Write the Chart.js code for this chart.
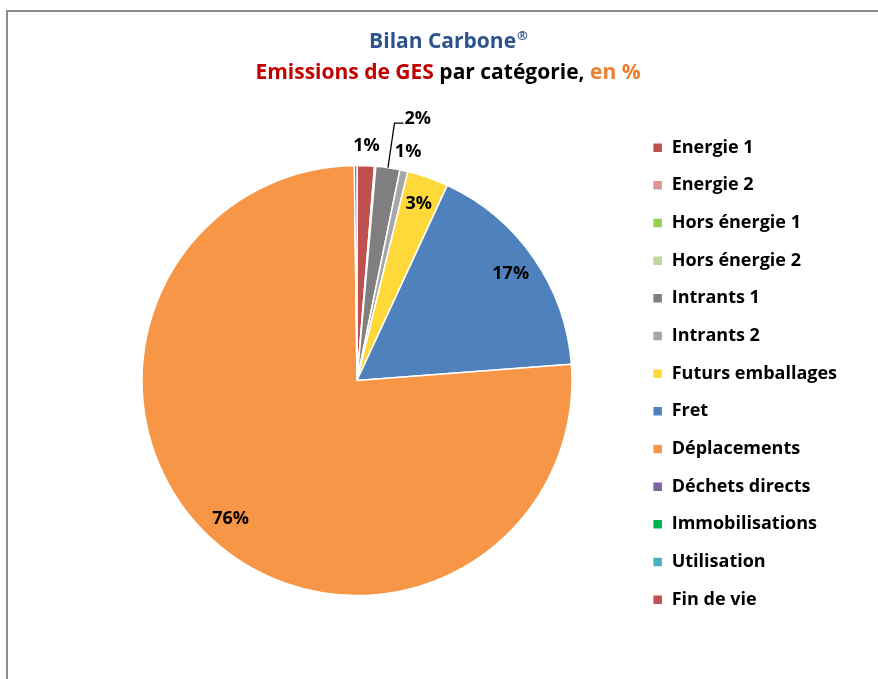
<!DOCTYPE html>
<html lang="fr">
<head>
    <meta charset="UTF-8">
    <title>Bilan Carbone</title>
    <style>
        body, html {
            margin: 0;
            padding: 0;
            width: 100%;
            height: 100%;
            overflow: hidden;
            background: #fff;
        }

        #frame {
            position: absolute;
            left: 6px;
            top: 10px;
            width: 900px;
            height: 700px;
            border-left: 2px solid #8c8c8c;
            border-top: 2px solid #8c8c8c;
        }

        #chartBox {
            position: absolute;
            left: 0;
            top: 0;
            width: 878px;
            height: 679px;
        }
    </style>
</head>
<body>

<div id="frame"></div>
<div id="chartBox">
    <canvas id="pieChart"></canvas>
</div>

<script src="https://cdn.jsdelivr.net/npm/chart.js"></script>
<script>
    const categories = ['Energie 1', 'Energie 2', 'Hors énergie 1', 'Hors énergie 2', 'Intrants 1', 'Intrants 2',
        'Futurs emballages', 'Fret', 'Déplacements', 'Déchets directs', 'Immobilisations', 'Utilisation', 'Fin de vie'];
    const shares = [1.3, 0.1, 0, 0, 1.8, 0.6, 3.1, 16.9, 76.0, 0.2, 0, 0, 0];
    const colors = ['#C0504D', '#DA9694', '#92D050', '#C3D69B', '#7F7F7F', '#A6A6A6',
        '#FFD93A', '#4F81BD', '#F79646', '#8064A2', '#00B050', '#4BACC6', '#C0504D'];
    // where each percentage label goes: inside, outside, or outside with a leader line
    const labelPlacement = ['out', 'none', 'none', 'none', 'leader', 'out', 'in', 'in', 'in', 'none', 'none', 'none', 'none'];

    const FONT = '"Open Sans", Lato, sans-serif';

    // two-line title with mixed colours
    const titlePlugin = {
        id: 'mixedTitle',
        afterDraw(chart) {
            const ctx = chart.ctx;
            const cx = 448;
            ctx.save();
            ctx.textBaseline = 'middle';
            ctx.textAlign = 'left';

            // first line, with a small raised ®
            ctx.font = 'bold 21px ' + FONT;
            const w1 = ctx.measureText('Bilan Carbone').width;
            ctx.font = 'bold 13px ' + FONT;
            const w2 = ctx.measureText('®').width;
            let x = cx - (w1 + w2) / 2;
            ctx.fillStyle = '#2C538C';
            ctx.font = 'bold 21px ' + FONT;
            ctx.fillText('Bilan Carbone', x, 42);
            ctx.font = 'bold 13px ' + FONT;
            ctx.fillText('®', x + w1 + 1, 36);

            ctx.font = 'bold 21px ' + FONT;
            const parts = [
                ['Emissions de GES', '#C00000'],
                [' par catégorie,', '#000000'],
                [' en %', '#ED7D31']
            ];
            let total = 0;
            parts.forEach(p => total += ctx.measureText(p[0]).width);
            x = cx - total / 2;
            parts.forEach(p => {
                ctx.fillStyle = p[1];
                ctx.fillText(p[0], x, 73);
                x += ctx.measureText(p[0]).width;
            });
            ctx.restore();
        }
    };

    // percentage labels computed from the arc geometry
    const sliceLabels = {
        id: 'sliceLabels',
        afterDatasetsDraw(chart) {
            const ctx = chart.ctx;
            const meta = chart.getDatasetMeta(0);
            ctx.save();
            ctx.font = 'bold 18px ' + FONT;
            ctx.fillStyle = '#000';
            ctx.textBaseline = 'middle';
            meta.data.forEach((arc, i) => {
                const mode = labelPlacement[i];
                if (mode === 'none' || !shares[i]) return;
                const p = arc.getProps(['x', 'y', 'startAngle', 'endAngle', 'outerRadius'], true);
                const mid = (p.startAngle + p.endAngle) / 2;
                const R = p.outerRadius;
                const text = Math.round(shares[i]) + '%';
                if (mode === 'in' || mode === 'out') {
                    const r = mode === 'in' ? R * 0.87 : R * 1.09;
                    ctx.textAlign = 'center';
                    ctx.fillText(text, p.x + Math.cos(mid) * r, p.y + Math.sin(mid) * r);
                } else {
                    const ex = p.x + Math.cos(mid) * R;
                    const ey = p.y + Math.sin(mid) * R;
                    const kx = p.x + Math.cos(mid) * R * 1.21;
                    const ky = p.y + Math.sin(mid) * R * 1.21;
                    ctx.strokeStyle = '#000';
                    ctx.lineWidth = 1.3;
                    ctx.beginPath();
                    ctx.moveTo(ex, ey);
                    ctx.lineTo(kx, ky);
                    ctx.lineTo(kx + 9, ky);
                    ctx.stroke();
                    ctx.textAlign = 'left';
                    ctx.fillText(text, kx + 10, ky - 4);
                }
            });
            ctx.restore();
        }
    };

    const ctx = document.getElementById('pieChart').getContext('2d');
    new Chart(ctx, {
        type: 'pie',
        data: {
            labels: categories,
            datasets: [{
                data: shares,
                backgroundColor: colors,
                borderColor: '#ffffff',
                borderWidth: 1.5,
                radius: 215
            }]
        },
        options: {
            responsive: true,
            maintainAspectRatio: false,
            animation: false,
            layout: {
                padding: { left: 81, right: 31, top: 86, bottom: 4 }
            },
            plugins: {
                title: { display: false },
                tooltip: { enabled: false },
                legend: {
                    position: 'right',
                    align: 'start',
                    title: {
                        display: true,
                        text: ' ',
                        font: { size: 10 },
                        padding: { top: 0, bottom: 21 }
                    },
                    labels: {
                        boxWidth: 10,
                        boxHeight: 10,
                        padding: 19.67,
                        color: '#000',
                        font: { family: FONT, size: 18, weight: 'bold' }
                    }
                }
            }
        },
        plugins: [titlePlugin, sliceLabels]
    });
</script>

</body>
</html>
